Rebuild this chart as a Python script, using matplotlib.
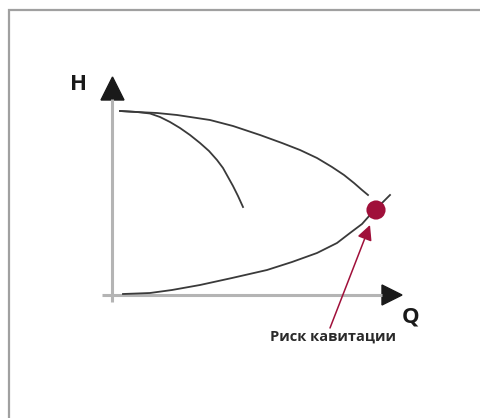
import matplotlib.pyplot as plt
from matplotlib.patches import Rectangle

# curves in chart units (origin at the axes corner, 1 unit ~ 1 px)
pump_q = [8, 25, 45, 65, 98, 121, 148, 170, 188, 205, 220, 232, 242, 250, 256]
pump_h = [184, 183, 182, 180, 175, 169, 160, 152, 145, 137, 128, 120, 112, 105, 100]

branch_q = [8, 25, 38, 48, 58, 68, 78, 88, 97, 105, 111, 116, 121, 126, 131]
branch_h = [184, 183, 181.5, 178, 173, 167, 160, 152, 144, 135, 127, 118, 109, 99, 88]

system_q = [11, 25, 38, 60, 88, 120, 155, 180, 205, 225, 238, 250, 258, 268, 278]
system_h = [1, 1.5, 2, 5, 10, 17, 25, 33, 42, 52, 62, 71, 80, 90, 100]

point_q, point_h = 264, 85
arrow_from = (218, -33)
arrow_to = (258, 70)

label_h = 'H'
label_q = 'Q'
label_risk = 'Риск кавитации'

fig = plt.figure(figsize=(4.8, 4.18), dpi=100)
ax = fig.add_axes([0, 0, 1, 1])
ax.set_xlim(-112, 368)
ax.set_ylim(-123, 295)
ax.axis('off')

# outer frame
fig.patches.append(Rectangle((9 / 480, -0.01), 1.0, 1 - 10 / 418 + 0.01,
                             transform=fig.transFigure, fill=False,
                             edgecolor='#a0a0a0', linewidth=1.6))

axis_col = '#b4b4b4'
ax.plot([0, 0], [-7, 196], color=axis_col, lw=2.2, solid_capstyle='butt')
ax.plot([-10, 270], [0, 0], color=axis_col, lw=2.2, solid_capstyle='butt')
ax.fill([-11, 12, 0.5], [195, 195, 218], color='#1a1a1a')
ax.fill([270, 270, 290], [10, -10, 0], color='#1a1a1a')

curve_col = '#3a3a3a'
ax.plot(pump_q, pump_h, color=curve_col, lw=1.3)
ax.plot(branch_q, branch_h, color=curve_col, lw=1.3)
ax.plot(system_q, system_h, color=curve_col, lw=1.3)

red = '#a0103a'
ax.annotate('', xy=arrow_to, xytext=arrow_from,
            arrowprops=dict(arrowstyle='-|>,head_length=0.9,head_width=0.45',
                            color=red, lw=1.1, shrinkA=0, shrinkB=0))
ax.scatter([point_q], [point_h], s=190, color=red, zorder=5, edgecolors='none')

font = 'Open Sans'
ax.text(-34, 211, label_h, fontsize=16, fontweight='bold', family=font,
        ha='center', va='center', color='#1a1a1a')
ax.text(299, -22, label_q, fontsize=16, fontweight='bold', family=font,
        ha='center', va='center', color='#1a1a1a')
ax.text(221, -42, label_risk, fontsize=10.5, fontweight='bold', family=font,
        ha='center', va='center', color='#2a2a2a')

plt.savefig('out.png', dpi=100)
